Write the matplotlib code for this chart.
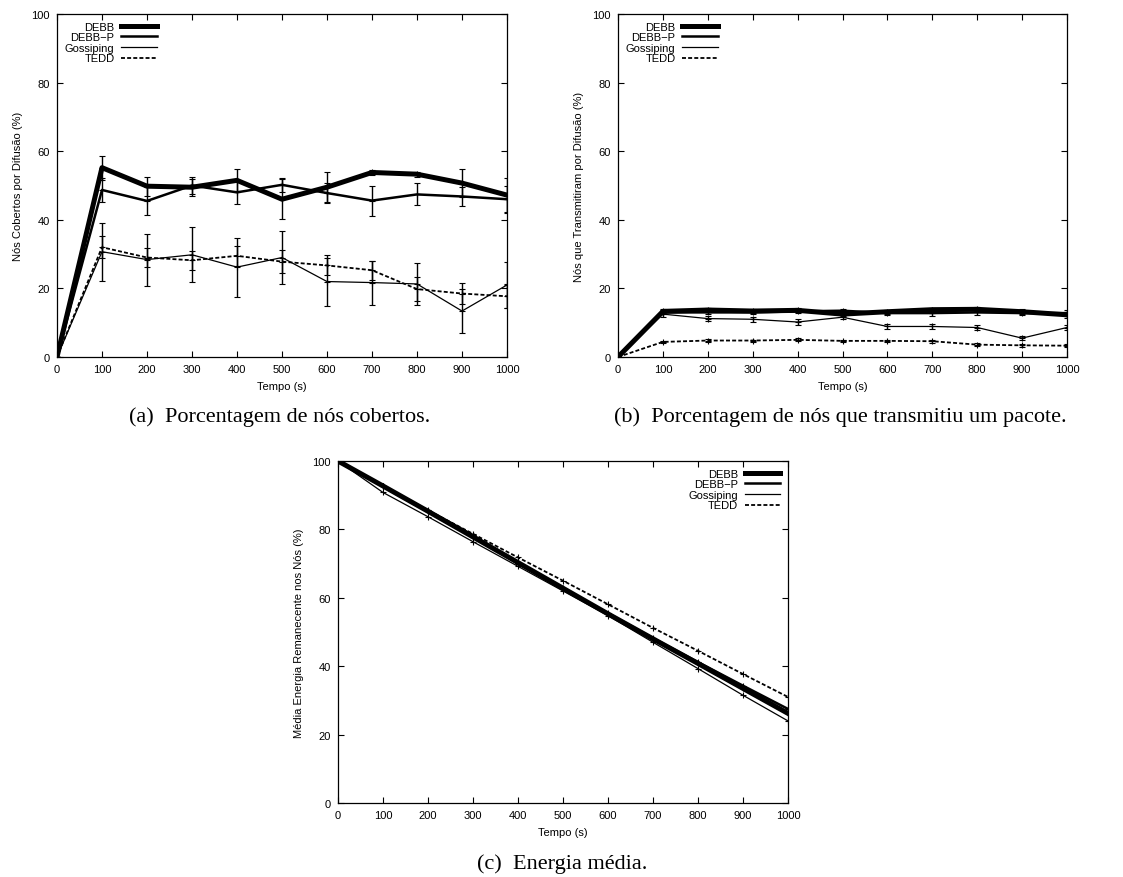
import matplotlib
matplotlib.use("Agg")
import matplotlib.pyplot as plt
from matplotlib.lines import Line2D

plt.rcParams['font.family'] = ['Liberation Sans', 'DejaVu Sans']

tempo = [0, 100, 200, 300, 400, 500, 600, 700, 800, 900, 1000]
series = ["DEBB", "DEBB\u2212P", "Gossiping", "TEDD"]

# (a) nós cobertos por difusão (%)
cob = {
    "DEBB":      [0, 55.2, 49.8, 49.5, 51.5, 46.0, 49.5, 53.8, 53.3, 50.7, 47.2],
    "DEBB\u2212P":    [0, 48.7, 45.5, 50.0, 48.0, 50.2, 47.8, 45.6, 47.4, 46.8, 46.0],
    "Gossiping": [0, 30.7, 28.4, 29.8, 26.2, 29.0, 22.0, 21.7, 21.3, 13.4, 21.0],
    "TEDD":      [0, 32.0, 29.0, 28.2, 29.5, 27.8, 26.7, 25.3, 19.8, 18.5, 17.7],
}
cob_err = {
    "DEBB":      [0, 3.5, 2.8, 2.5, 3.2, 5.8, 4.3, 0.6, 0.7, 4.0, 5.0],
    "DEBB\u2212P":    [0, 3.5, 4.0, 2.5, 3.5, 2.0, 3.0, 4.4, 3.2, 2.8, 4.0],
    "Gossiping": [0, 8.4, 7.6, 8.0, 8.6, 7.7, 7.0, 6.4, 6.2, 6.5, 6.7],
    "TEDD":      [0, 3.2, 2.7, 2.7, 3.0, 3.3, 2.9, 2.8, 3.4, 3.0, 3.5],
}

# (b) nós que transmitiram por difusão (%)
tra = {
    "DEBB":      [0, 13.3, 13.7, 13.4, 13.6, 12.5, 13.2, 13.8, 13.9, 13.2, 12.3],
    "DEBB\u2212P":    [0, 13.0, 13.0, 13.0, 13.3, 13.5, 12.8, 12.8, 13.0, 12.8, 12.8],
    "Gossiping": [0, 12.5, 11.2, 11.0, 10.2, 11.6, 8.9, 8.9, 8.6, 5.5, 8.6],
    "TEDD":      [0, 4.4, 4.8, 4.8, 5.0, 4.7, 4.7, 4.6, 3.6, 3.4, 3.3],
}
tra_err = {
    "DEBB":      [0, 0.6, 0.6, 0.6, 0.6, 0.6, 0.6, 0.6, 0.6, 0.7, 0.8],
    "DEBB\u2212P":    [0, 0.6, 0.6, 0.6, 0.6, 0.6, 0.6, 0.9, 0.8, 0.6, 0.8],
    "Gossiping": [0, 0.8, 0.8, 0.8, 0.8, 0.6, 0.7, 0.6, 0.6, 0.6, 0.8],
    "TEDD":      [0, 0.4, 0.4, 0.3, 0.4, 0.4, 0.4, 0.4, 0.5, 0.4, 0.4],
}

# (c) energia média remanescente (%)
ene = {
    "DEBB":      [100, 92.7, 85.3, 77.8, 70.3, 62.8, 55.3, 48.0, 40.8, 33.5, 26.2],
    "DEBB\u2212P":    [100, 92.6, 85.5, 78.3, 70.0, 62.5, 55.5, 48.2, 41.2, 34.3, 27.5],
    "Gossiping": [100, 90.8, 83.7, 76.4, 69.2, 62.0, 54.8, 47.0, 39.3, 31.5, 24.0],
    "TEDD":      [100, 92.8, 85.6, 78.7, 71.8, 65.0, 58.1, 51.2, 44.5, 37.7, 31.0],
}

estilo = {
    "DEBB":      dict(lw=3.6, ls="-"),
    "DEBB\u2212P":    dict(lw=1.8, ls="-"),
    "Gossiping": dict(lw=0.9, ls="-"),
    "TEDD":      dict(lw=1.3, ls=(0, (2.2, 1.2))),
}

W, H = 1123, 878
fig = plt.figure(figsize=(W / 100, H / 100), dpi=100)


def painel(rect, dados, erros, ylabel, loc):
    ax = fig.add_axes(rect)
    for s in series:
        st = estilo[s]
        if erros is not None:
            ax.errorbar(tempo, dados[s], yerr=erros[s], color="black", lw=st["lw"], ls=st["ls"],
                        elinewidth=1.0, capsize=2.5, capthick=1.0, marker="+", ms=4,
                        mew=0.8)
        else:
            ax.plot(tempo, dados[s], color="black", lw=st["lw"], ls=st["ls"],
                    marker="+", ms=4, mew=0.8)
    ax.set_xlim(0, 1000)
    ax.set_ylim(0, 100)
    ax.set_xticks(tempo)
    ax.set_yticks([0, 20, 40, 60, 80, 100])
    ax.tick_params(direction="in", top=True, right=True, labelsize=8, length=4, width=0.8, pad=5)
    for sp in ax.spines.values():
        sp.set_linewidth(0.9)
    ax.set_xlabel("Tempo (s)", fontsize=8, labelpad=5)
    ax.set_ylabel(ylabel, fontsize=8, labelpad=6)
    h = [Line2D([], [], color="black", lw=estilo[s]["lw"], ls=estilo[s]["ls"]) for s in series]
    ax.legend(h, series, loc=loc, frameon=False, markerfirst=False, fontsize=8,
              handlelength=3.2, handletextpad=0.6, labelspacing=0.05, borderaxespad=0.3)
    return ax


painel([57 / W, 1 - 358 / H, 450 / W, 343 / H], cob, cob_err,
       "Nós Cobertos por Difusão (%)", "upper left")
painel([618 / W, 1 - 358 / H, 449 / W, 343 / H], tra, tra_err,
       "Nós que Transmitiram por Difusão (%)", "upper left")
painel([338 / W, 1 - 804 / H, 450 / W, 342 / H], ene, None,
       "Média Energia Remanecente nos Nós (%)", "upper right")

cap = dict(fontsize=16, family="Liberation Serif", ha="center", va="center")
fig.text(280 / W, 1 - 417 / H, "(a)  Porcentagem de nós cobertos.", **cap)
fig.text(840 / W, 1 - 417 / H, "(b)  Porcentagem de nós que transmitiu um pacote.", **cap)
fig.text(562 / W, 1 - 864 / H, "(c)  Energia média.", **cap)

fig.savefig("out.png", dpi=100)
